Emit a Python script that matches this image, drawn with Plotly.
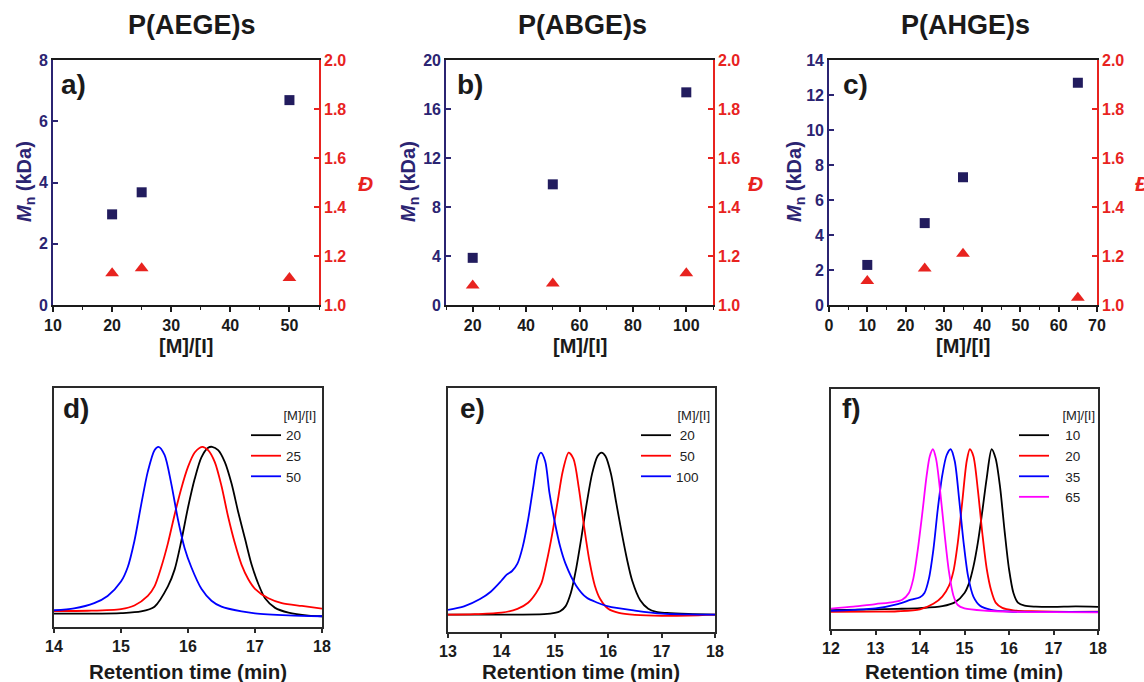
import plotly.graph_objects as go

W, H = 1144, 682
FONT = "Liberation Sans"
NAVY = "#2b2472"
RED = "#e8231f"
MK_NAVY = "#221c5e"
NB = "\u00a0"

# ---------------- top panels: Mn and dispersity ----------------
a_ratio = [20, 25, 50]
a_mn = [2.96, 3.68, 6.69]
a_disp = [1.13, 1.15, 1.11]

b_ratio = [20, 50, 100]
b_mn = [3.85, 9.85, 17.36]
b_disp = [1.08, 1.088, 1.13]

c_ratio = [10, 25, 35, 65]
c_mn = [2.29, 4.68, 7.30, 12.7]
c_disp = [1.098, 1.149, 1.209, 1.03]

# ---------------- bottom panels: GPC traces (normalized) ----------------
d_labels = ["20", "25", "50"]
d_x20 = [14.0, 14.5, 15.0, 15.3, 15.5, 15.7, 15.8, 15.9, 16.0, 16.1, 16.2, 16.3, 16.36, 16.45, 16.55, 16.65, 16.75, 16.85, 16.95, 17.05, 17.15, 17.3, 17.5, 17.8, 18.0]
d_y20 = [0.056, 0.056, 0.058, 0.065, 0.085, 0.17, 0.24, 0.36, 0.50, 0.62, 0.71, 0.75, 0.754, 0.74, 0.69, 0.60, 0.48, 0.37, 0.26, 0.18, 0.12, 0.08, 0.06, 0.048, 0.045]
d_x25 = [14.0, 14.5, 15.0, 15.2, 15.4, 15.5, 15.6, 15.7, 15.8, 15.9, 16.0, 16.1, 16.21, 16.3, 16.4, 16.5, 16.6, 16.7, 16.8, 16.9, 17.0, 17.2, 17.4, 17.7, 18.0]
d_y25 = [0.067, 0.068, 0.075, 0.09, 0.13, 0.17, 0.25, 0.35, 0.47, 0.58, 0.67, 0.73, 0.754, 0.74, 0.69, 0.59, 0.46, 0.35, 0.26, 0.20, 0.16, 0.12, 0.10, 0.088, 0.077]
d_x50 = [14.0, 14.3, 14.6, 14.8, 15.0, 15.1, 15.2, 15.3, 15.4, 15.5, 15.56, 15.65, 15.75, 15.85, 15.95, 16.05, 16.2, 16.35, 16.5, 16.8, 17.0, 17.5, 18.0]
d_y50 = [0.070, 0.078, 0.10, 0.13, 0.19, 0.25, 0.36, 0.51, 0.65, 0.74, 0.754, 0.72, 0.60, 0.45, 0.33, 0.25, 0.16, 0.11, 0.085, 0.065, 0.057, 0.049, 0.045]

e_labels = ["20", "50", "100"]
e_x20 = [13.0, 14.0, 14.8, 15.0, 15.1, 15.2, 15.3, 15.4, 15.5, 15.6, 15.7, 15.8, 15.875, 15.95, 16.05, 16.15, 16.25, 16.35, 16.45, 16.6, 16.75, 16.9, 17.1, 17.5, 18.0]
e_y20 = [0.071, 0.071, 0.073, 0.078, 0.085, 0.105, 0.16, 0.26, 0.39, 0.53, 0.65, 0.72, 0.735, 0.72, 0.65, 0.53, 0.41, 0.30, 0.21, 0.13, 0.095, 0.082, 0.078, 0.074, 0.071]
e_x50 = [13.0, 13.5, 14.0, 14.3, 14.5, 14.65, 14.75, 14.85, 14.95, 15.05, 15.15, 15.26, 15.35, 15.45, 15.55, 15.65, 15.75, 15.85, 16.0, 16.2, 16.5, 17.0, 17.5, 18.0]
e_y50 = [0.071, 0.073, 0.079, 0.095, 0.12, 0.16, 0.20, 0.29, 0.40, 0.53, 0.66, 0.735, 0.71, 0.59, 0.43, 0.29, 0.19, 0.135, 0.095, 0.078, 0.070, 0.066, 0.067, 0.071]
e_x100 = [13.0, 13.3, 13.6, 13.8, 14.0, 14.1, 14.2, 14.3, 14.4, 14.5, 14.6, 14.68, 14.74, 14.82, 14.9, 15.0, 15.1, 15.2, 15.4, 15.6, 15.8, 16.0, 16.5, 17.0, 17.5, 18.0]
e_y100 = [0.091, 0.105, 0.135, 0.165, 0.21, 0.235, 0.25, 0.28, 0.35, 0.46, 0.60, 0.71, 0.735, 0.70, 0.57, 0.45, 0.35, 0.28, 0.19, 0.14, 0.12, 0.105, 0.088, 0.075, 0.072, 0.071]

f_labels = ["10", "20", "35", "65"]
f_x10 = [12.0, 13.0, 13.5, 14.0, 14.5, 14.8, 15.0, 15.1, 15.2, 15.3, 15.4, 15.5, 15.61, 15.7, 15.8, 15.9, 16.0, 16.1, 16.2, 16.35, 16.6, 17.0, 17.5, 18.0]
f_y10 = [0.079, 0.082, 0.084, 0.087, 0.095, 0.113, 0.15, 0.19, 0.26, 0.36, 0.49, 0.63, 0.749, 0.71, 0.59, 0.41, 0.25, 0.15, 0.11, 0.097, 0.093, 0.092, 0.094, 0.092]
f_x20 = [12.0, 13.0, 13.5, 14.0, 14.3, 14.5, 14.65, 14.75, 14.85, 14.95, 15.05, 15.12, 15.2, 15.3, 15.4, 15.5, 15.6, 15.7, 15.85, 16.1, 16.5, 17.0, 18.0]
f_y20 = [0.071, 0.072, 0.074, 0.082, 0.105, 0.135, 0.18, 0.24, 0.36, 0.53, 0.70, 0.749, 0.72, 0.58, 0.40, 0.25, 0.16, 0.11, 0.088, 0.078, 0.074, 0.072, 0.072]
f_x35 = [12.0, 12.5, 13.0, 13.5, 13.8, 14.0, 14.1, 14.2, 14.3, 14.4, 14.5, 14.6, 14.69, 14.78, 14.88, 14.98, 15.08, 15.2, 15.35, 15.6, 16.0, 17.0, 18.0]
f_y35 = [0.076, 0.080, 0.086, 0.104, 0.122, 0.132, 0.15, 0.21, 0.33, 0.50, 0.64, 0.725, 0.749, 0.70, 0.54, 0.36, 0.22, 0.135, 0.097, 0.080, 0.073, 0.071, 0.071]
f_x65 = [12.0, 12.5, 13.0, 13.4, 13.6, 13.75, 13.85, 13.95, 14.05, 14.15, 14.22, 14.29, 14.36, 14.45, 14.55, 14.65, 14.75, 14.85, 15.0, 15.5, 16.0, 17.0, 18.0]
f_y65 = [0.085, 0.093, 0.104, 0.112, 0.122, 0.15, 0.21, 0.33, 0.48, 0.64, 0.72, 0.749, 0.71, 0.58, 0.40, 0.24, 0.14, 0.10, 0.086, 0.076, 0.072, 0.070, 0.069]

panel_titles = ["P(AEGE)s", "P(ABGE)s", "P(AHGE)s"]
panel_letters = ["a)", "b)", "c)", "d)", "e)", "f)"]


def px(x):
    return x / W


def py(y):
    return 1 - y / H


fig = go.Figure()

# ---- top scatter traces ----
top = [
    (a_ratio, a_mn, a_disp, "x", "y", "y2"),
    (b_ratio, b_mn, b_disp, "x2", "y3", "y4"),
    (c_ratio, c_mn, c_disp, "x3", "y5", "y6"),
]
for r, mn, dsp, xa, ya, ya2 in top:
    fig.add_trace(go.Scatter(x=r, y=mn, mode="markers", xaxis=xa, yaxis=ya, showlegend=False,
                             marker=dict(symbol="square", size=10, color=MK_NAVY)))
    fig.add_trace(go.Scatter(x=r, y=dsp, mode="markers", xaxis=xa, yaxis=ya2, showlegend=False,
                             marker=dict(symbol="triangle-up", size=12, color=RED)))

# ---- bottom GPC traces ----
line_cols = ["#000000", "#ff0000", "#0000ff", "#ff00ff"]
# (axis x, axis y, legend id, labels, leading pad, trailing pad, curves)
bottom = [
    ("x4", "y7", "legend", d_labels, 0, 3, [(d_x20, d_y20), (d_x25, d_y25), (d_x50, d_y50)]),
    ("x5", "y8", "legend2", e_labels, 1, 2, [(e_x20, e_y20), (e_x50, e_y50), (e_x100, e_y100)]),
    ("x6", "y9", "legend3", f_labels, 3, 3, [(f_x10, f_y10), (f_x20, f_y20), (f_x35, f_y35), (f_x65, f_y65)]),
]
for xa, ya, lg, labels, lead, trail, curves in bottom:
    for i, (xs, ys) in enumerate(curves):
        lab = labels[i]
        pad_l = NB * (lead if len(lab) == 2 else 0)
        fig.add_trace(go.Scatter(x=xs, y=ys, mode="lines", xaxis=xa, yaxis=ya, legend=lg,
                                 name=pad_l + lab + NB * trail,
                                 line=dict(color=line_cols[i], width=1.8, shape="spline", smoothing=0.8)))

tickfont_black = dict(family=FONT, size=16, color="#1a1a1a", weight="bold")

# top panel domains (pixels)
top_dom = [(53, 319), (446, 713), (829, 1097)]
top_y = (60, 305)
top_xr = [(10, 55, 10, 5), (10, 110, 20, 10), (0, 70, 10, 5)]
top_yr = [(0, 8, 2), (0, 20, 4), (0, 14, 2)]

layout = dict(width=W, height=H, margin=dict(l=0, r=0, t=0, b=0, autoexpand=False),
              paper_bgcolor="white", plot_bgcolor="white", showlegend=True)

for i in range(3):
    xn = "xaxis" if i == 0 else f"xaxis{i+1}"
    yl = "yaxis" if i == 0 else f"yaxis{2*i+1}"
    yr = f"yaxis{2*i+2}"
    xref = "x" if i == 0 else f"x{i+1}"
    yref = "y" if i == 0 else f"y{2*i+1}"
    x0, x1 = top_dom[i]
    lo, hi, dt, mdt = top_xr[i]
    layout[xn] = dict(domain=[px(x0), px(x1)], anchor=yref, range=[lo, hi], dtick=dt, tick0=0,
                      showline=True, linecolor="#1a1a1a", linewidth=1.6, mirror=True,
                      ticks="outside", ticklen=5, tickwidth=1.5, tickcolor="#1a1a1a",
                      minor=dict(ticks="outside", ticklen=3, dtick=mdt, tickcolor="#1a1a1a", tickwidth=1.3),
                      showgrid=False, zeroline=False, tickfont=tickfont_black, automargin=False)
    ylo, yhi, ydt = top_yr[i]
    layout[yl] = dict(domain=[py(top_y[1]), py(top_y[0])], anchor=xref, range=[ylo, yhi], dtick=ydt,
                      showline=True, linecolor=NAVY, linewidth=1.6, ticks="inside", ticklen=5,
                      tickwidth=1.5, tickcolor=NAVY, showgrid=False, zeroline=False, automargin=False,
                      tickfont=dict(family=FONT, size=16, color=NAVY, weight="bold"))
    layout[yr] = dict(overlaying=yref, anchor=xref, side="right", range=[1.0, 2.0], dtick=0.2,
                      tickformat=".1f", showline=True, linecolor=RED, linewidth=1.6,
                      ticks="inside", ticklen=5, tickwidth=1.5, tickcolor=RED,
                      showgrid=False, zeroline=False, automargin=False,
                      tickfont=dict(family=FONT, size=16, color=RED, weight="bold"))

bot_dom = [(54, 322, 388, 627, 14, 18), (448, 715, 388, 632, 13, 18), (831, 1098, 389, 629, 12, 18)]
for j in range(3):
    xn = f"xaxis{j+4}"
    yn = f"yaxis{j+7}"
    x0, x1, ytop, ybot, lo, hi = bot_dom[j]
    layout[xn] = dict(domain=[px(x0), px(x1)], anchor=f"y{j+7}", range=[lo, hi], dtick=1,
                      showline=True, linecolor="#2a2a2a", linewidth=1.6, mirror=True,
                      ticks="outside", ticklen=4, tickwidth=1.5, tickcolor="#2a2a2a",
                      showgrid=False, zeroline=False, tickfont=tickfont_black, automargin=False)
    layout[yn] = dict(domain=[py(ybot), py(ytop)], anchor=f"x{j+4}", range=[0, 1],
                      showline=True, linecolor="#2a2a2a", linewidth=1.6, mirror=True, automargin=False,
                      ticks="", showticklabels=False, showgrid=False, zeroline=False)

leg_pos = [(318, 403), (712, 403), (1097, 403)]
for j, name in enumerate(["legend", "legend2", "legend3"]):
    lx, ly = leg_pos[j]
    layout[name] = dict(x=px(lx), y=py(ly), xanchor="right", yanchor="top",
                        bgcolor="rgba(0,0,0,0)", borderwidth=0,
                        font=dict(family=FONT, size=13.5, color="#222"),
                        title=dict(text="[M]/[I]", side="top right", font=dict(family=FONT, size=13, color="#222")),
                        itemwidth=30, tracegroupgap=0)

fig.update_layout(**layout)

ann = []


def add_text(text, cx, cy, size, color="#1a1a1a", angle=0):
    ann.append(dict(text=text, x=px(cx), y=py(cy), xref="paper", yref="paper", showarrow=False,
                    xanchor="center", yanchor="middle", textangle=angle,
                    font=dict(family=FONT, size=size, color=color)))


for t, cx in zip(panel_titles, [192, 582, 965]):
    add_text(f"<b>{t}</b>", cx, 25, 27)
for t, (cx, cy) in zip(panel_letters, [(73, 84), (470, 84), (855, 84), (76, 408), (472, 408), (851, 408)]):
    add_text(f"<b>{t}</b>", cx, cy, 28)
for cx in [186, 580, 963]:
    add_text("<b>[M]/[I]</b>", cx, 346, 20)
for cx in [188, 581, 964]:
    add_text("<b>Retention time (min)</b>", cx, 671, 20.5)
for cx in [25, 409, 795]:
    add_text("<b><i>M</i><sub>n</sub> (kDa)</b>", cx, 182, 20, NAVY, -90)
for cx in [365, 755, 1142]:
    add_text("<b><i>Đ</i></b>", cx, 183, 21, RED)

fig.update_layout(annotations=ann)

fig.write_html("out.html", config={"displayModeBar": False},
               post_script="document.body.style.margin='0';document.body.style.overflow='hidden';")
